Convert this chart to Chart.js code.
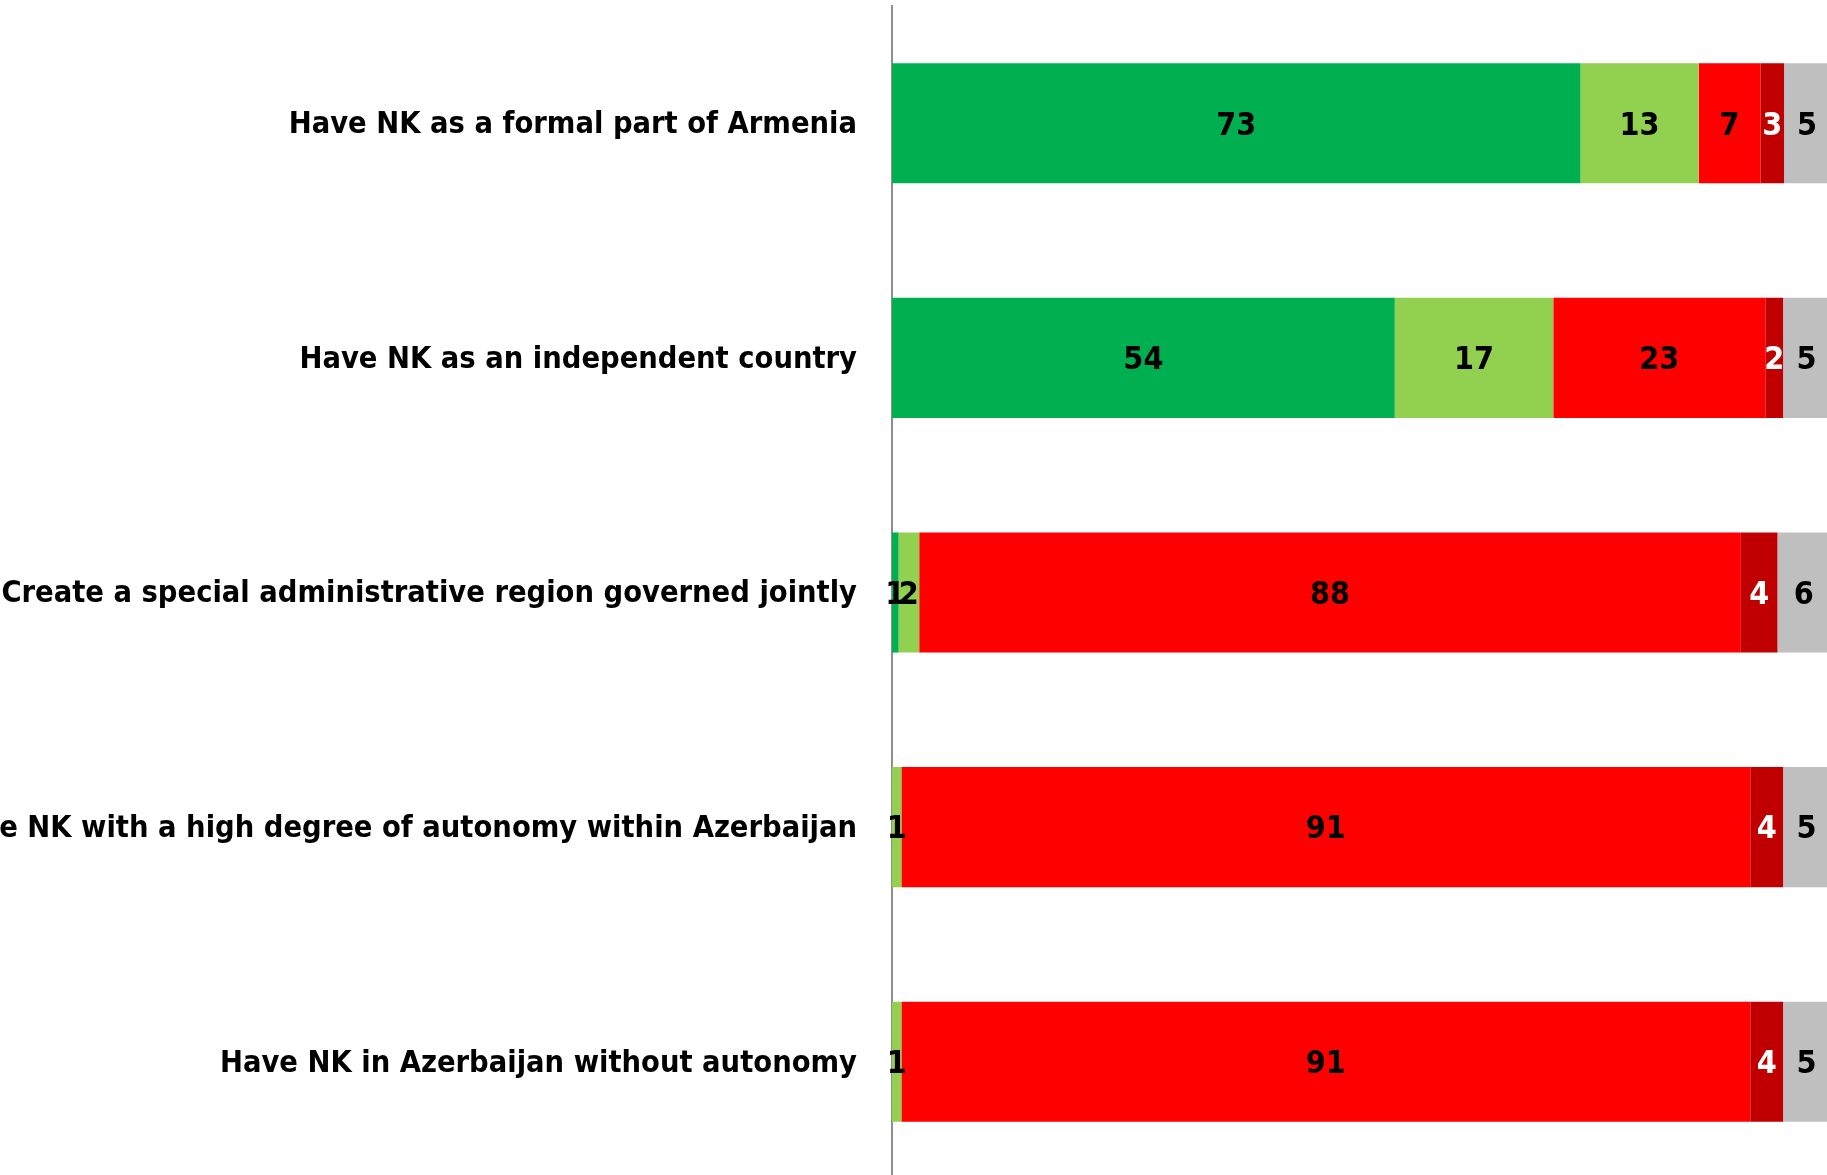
<!DOCTYPE html>
<html>
<head>
<meta charset="utf-8">
<script src="https://cdn.jsdelivr.net/npm/chart.js@4.4.1/dist/chart.umd.min.js"></script>
<style>
  html, body { margin: 0; padding: 0; background: #fff; overflow: hidden; }
  #wrap { width: 1827px; height: 1175px; overflow: hidden; position: relative; }
  #chart { position: absolute; left: 0; top: 0; }
</style>
</head>
<body>
<div id="wrap"><canvas id="chart" width="1830" height="1179"></canvas></div>
<script>
const categories = [
  'Have NK as a formal part of Armenia',
  'Have NK as an independent country',
  'Create a special administrative region governed jointly',
  'Have NK with a high degree of autonomy within Azerbaijan',
  'Have NK in Azerbaijan without autonomy'
];

// shares in percent, per answer
const stronglySupport = [73.4, 53.6, 0.7, 0, 0];
const somewhatSupport = [12.6, 16.9, 2.2, 1.0, 1.0];
const somewhatOppose  = [6.6, 22.6, 87.6, 90.5, 90.5];
const stronglyOppose  = [2.5, 1.9, 3.9, 3.5, 3.5];
const dontKnow        = [4.9, 5.0, 5.6, 5.0, 5.0];

const FONT = "'DejaVu Sans Condensed', 'Open Sans', sans-serif";

const barLabels = {
  id: 'barLabels',
  afterDatasetsDraw(chart) {
    const ctx = chart.ctx;
    ctx.save();
    ctx.font = 'bold 32px ' + FONT;
    ctx.textAlign = 'center';
    ctx.textBaseline = 'middle';
    chart.data.datasets.forEach((ds, i) => {
      const meta = chart.getDatasetMeta(i);
      meta.data.forEach((bar, j) => {
        const v = Math.round(ds.data[j]);
        if (!v) return;
        ctx.fillStyle = ds.labelColor;
        ctx.fillText(v, (bar.x + bar.base) / 2, bar.y + 3);
      });
    });
    ctx.restore();
  }
};

new Chart(document.getElementById('chart'), {
  type: 'bar',
  data: {
    labels: categories,
    datasets: [
      { data: stronglySupport, backgroundColor: '#00b050', labelColor: '#000' },
      { data: somewhatSupport, backgroundColor: '#92d050', labelColor: '#000' },
      { data: somewhatOppose, backgroundColor: '#ff0000', labelColor: '#000' },
      { data: stronglyOppose, backgroundColor: '#c00000', labelColor: '#fff' },
      { data: dontKnow, backgroundColor: '#bfbfbf', labelColor: '#000' }
    ]
  },
  options: {
    indexAxis: 'y',
    responsive: false,
    animation: false,
    layout: { padding: { top: 6, right: 0, bottom: 0, left: 0 } },
    categoryPercentage: 1,
    barPercentage: 0.512,
    scales: {
      x: { stacked: true, min: 0, max: 100, display: false },
      y: {
        stacked: true,
        grid: { display: false, drawTicks: false },
        border: { display: true, color: '#8e8e8e', width: 2 },
        ticks: { color: '#000', padding: 35, labelOffset: 2, font: { family: FONT, size: 30.5, weight: 'bold' } },
        afterFit(scale) {
          scale.width = 892;
          scale.paddingTop = 0;
          scale.paddingBottom = 0;
        }
      }
    },
    plugins: { legend: { display: false }, tooltip: { enabled: false } }
  },
  plugins: [barLabels]
});
</script>
</body>
</html>
